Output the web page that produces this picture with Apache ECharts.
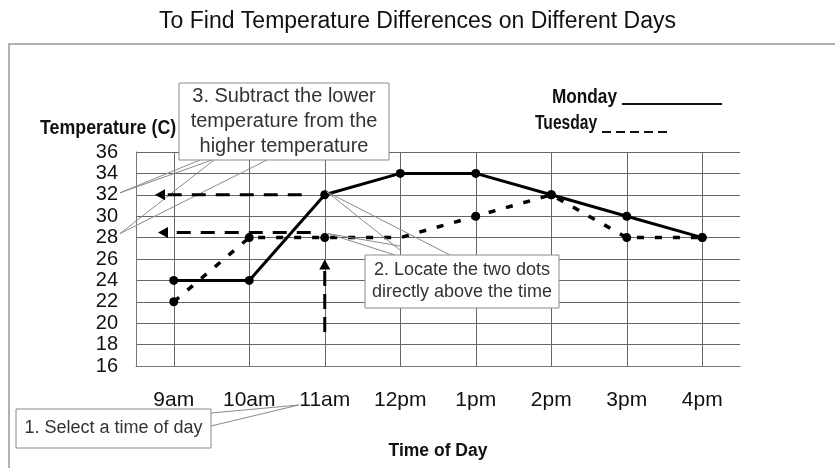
<!DOCTYPE html>
<html>
<head>
<meta charset="utf-8">
<script src="https://cdn.jsdelivr.net/npm/echarts@6/dist/echarts.min.js"></script>
<style>
  html, body { margin: 0; padding: 0; background: #fff; }
  #chart { width: 835px; height: 468px; }
</style>
</head>
<body>
<div id="chart"></div>
<script>
// Hourly temperatures (°C) for two days
const times = ['9am', '10am', '11am', '12pm', '1pm', '2pm', '3pm', '4pm'];
const monday = [24, 24, 32, 34, 34, 32, 30, 28];
const tuesday = [22, 28, 28, 28, 30, 32, 28, 28];
const tuesdayNoDot = ['12pm'];          // reading on the line with no dot drawn
const tempMin = 16, tempMax = 36, tempStep = 2;
const selectedTime = '11am';           // the worked example time

const FONT = '"Liberation Sans", Arial, sans-serif';
const chart = echarts.init(document.getElementById('chart'), null, { renderer: 'canvas' });

const tuesdayData = tuesday.map((v, i) =>
  tuesdayNoDot.includes(times[i]) ? { value: v, symbol: 'none' } : v);

chart.setOption({
  backgroundColor: '#fff',
  animation: false,
  title: {
    text: 'To Find Temperature Differences on Different Days',
    left: 'center', top: 5,
    textStyle: { fontFamily: FONT, fontSize: 23, fontWeight: 'normal', color: '#111' }
  },
  grid: { left: 136, right: 95, top: 152, bottom: 102 },
  xAxis: {
    type: 'category', data: times, boundaryGap: true,
    axisLine: { show: true, lineStyle: { color: '#777', width: 1 } },
    axisTick: { show: false },
    axisLabel: { fontFamily: FONT, fontSize: 21, color: '#111', margin: 24 },
    splitLine: { show: false },
    name: 'Time of Day', nameLocation: 'middle', nameGap: 76,
    nameTextStyle: { fontFamily: FONT, fontSize: 17.5, fontWeight: 'bold', color: '#111' }
  },
  yAxis: {
    type: 'value', min: tempMin, max: tempMax, interval: tempStep,
    axisLine: { show: true, lineStyle: { color: '#777', width: 1 } },
    axisTick: { show: false },
    axisLabel: { fontFamily: FONT, fontSize: 20, color: '#111', margin: 18 },
    splitLine: { show: true, lineStyle: { color: '#666', width: 1 } }
  },
  series: [
    {
      name: 'Tuesday', type: 'line', data: tuesdayData, z: 3,
      symbol: 'circle', symbolSize: 9,
      itemStyle: { color: '#000' },
      lineStyle: { color: '#000', width: 3.5, type: [7, 11] }
    },
    {
      name: 'Monday', type: 'line', data: monday, z: 4,
      symbol: 'circle', symbolSize: 9,
      itemStyle: { color: '#000' },
      lineStyle: { color: '#000', width: 3 },
      markLine: {
        silent: true, symbol: ['none', 'none'], z: 1,
        label: { show: false },
        lineStyle: { color: '#666', width: 1, type: 'solid' },
        data: times.map(t => ({ xAxis: t }))
      }
    }
  ]
});

// Annotation overlay, anchored to the axes
const px = (t, v) => chart.convertToPixel({ gridIndex: 0 }, [t, v]);
const [xSel, ySel32] = px(selectedTime, 32);
const ySel28 = px(selectedTime, 28)[1];
const plotLeft = px(times[0], tempMin)[0] - (px(times[1], tempMin)[0] - px(times[0], tempMin)[0]) / 2;
const yBottom = px(times[0], tempMin)[1];
const unit = ySel28 - ySel32; // pixels per 4 °C

function dashedArrow(x1, y1, x2, y2, dash) {
  // shaft from (x1,y1) to the tip (x2,y2), with a filled head at the tip
  const len = Math.hypot(x2 - x1, y2 - y1);
  const ux = (x2 - x1) / len, uy = (y2 - y1) / len;
  const hl = 10, hw = 5.5;
  const bx = x2 - ux * hl, by = y2 - uy * hl;
  return [
    { type: 'line', z: 20, shape: { x1: x1, y1: y1, x2: bx, y2: by },
      style: { stroke: '#000', lineWidth: 3, lineDash: dash } },
    { type: 'polygon', z: 20,
      shape: { points: [[x2, y2], [bx - uy * hw, by + ux * hw], [bx + uy * hw, by - ux * hw]] },
      style: { fill: '#000' } }
  ];
}

function wedge(pts) {
  return { type: 'polyline', z: 18, shape: { points: pts },
    style: { stroke: '#8a8a8a', lineWidth: 1, fill: null } };
}

function callout(x, y, w, h, lines, size, lh) {
  const items = [{ type: 'rect', z: 19, shape: { x: x, y: y, width: w, height: h },
    style: { fill: '#fff', stroke: '#8a8a8a', lineWidth: 1 } }];
  const cx = x + w / 2;
  const top = y + h / 2 - (lines.length - 1) * lh / 2;
  lines.forEach((s, i) => items.push({
    type: 'text', z: 21, x: cx, y: top + i * lh,
    style: { text: s, font: size + 'px ' + FONT, fill: '#333', textAlign: 'center', textVerticalAlign: 'middle' }
  }));
  return items;
}

const graphics = [
  // outer frame
  { type: 'rect', z: 0, shape: { x: 9, y: 44, width: 900, height: 500 },
    style: { fill: null, stroke: '#999', lineWidth: 1.5 } },
  // axis caption
  { type: 'text', z: 21, x: 40, y: 128, scaleX: 0.89, originX: 0,
    style: { text: 'Temperature (C)', font: 'bold 20px ' + FONT, fill: '#111', textAlign: 'left', textVerticalAlign: 'middle' } },
  // key
  { type: 'text', z: 21, x: 552, y: 97, scaleX: 0.86, originX: 0,
    style: { text: 'Monday', font: 'bold 20px ' + FONT, fill: '#111', textAlign: 'left', textVerticalAlign: 'middle' } },
  { type: 'line', z: 21, shape: { x1: 622, y1: 104, x2: 722, y2: 104 }, style: { stroke: '#111', lineWidth: 2 } },
  { type: 'text', z: 21, x: 535, y: 123, scaleX: 0.78, originX: 0,
    style: { text: 'Tuesday', font: 'bold 20px ' + FONT, fill: '#111', textAlign: 'left', textVerticalAlign: 'middle' } },
  { type: 'line', z: 21, shape: { x1: 602, y1: 132, x2: 667, y2: 132 }, style: { stroke: '#111', lineWidth: 2, lineDash: [9, 5] } },
  // reading across to the temperature scale
  ...dashedArrow(xSel - 23, ySel32, plotLeft + 19, ySel32, [14, 10]),
  ...dashedArrow(xSel - 14, ySel28 - 5, plotLeft + 22, ySel28 - 5, [14, 10]),
  // reading up from the selected time
  ...dashedArrow(xSel, yBottom - 34, xSel, ySel28 + 22, [15, 8]),
  // callout pointers
  wedge([[200, 160], [plotLeft - 16, ySel32 - 2], [212, 160]]),
  wedge([[214, 160], [plotLeft - 16, ySel28 - 4], [267, 160]]),
  wedge([[400, 250], [xSel + 2, ySel32 - 3], [450, 255]]),
  wedge([[400, 246], [xSel + 3, ySel28 - 4], [395, 255]]),
  wedge([[211, 413], [xSel - 26, 405], [211, 426]]),
  // callout boxes
  ...callout(179, 83, 210, 77, ['3. Subtract the lower', 'temperature from the', 'higher temperature'], 20, 25),
  ...callout(365, 255, 194, 53, ['2. Locate the two dots', 'directly above the time'], 18, 22),
  ...callout(16, 409, 195, 39, ['1. Select a time of day'], 18, 22)
];

chart.setOption({ graphic: graphics });
</script>
</body>
</html>
